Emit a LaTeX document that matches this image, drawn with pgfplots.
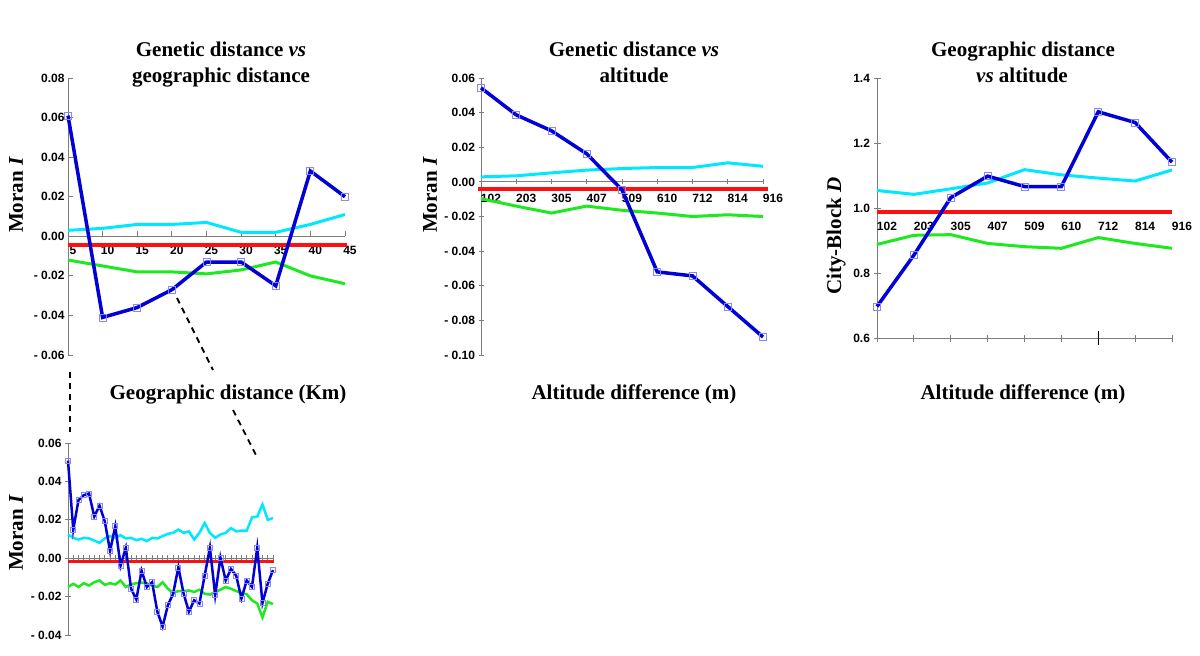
\documentclass[border=0pt]{standalone}
\usepackage{fontspec}
\setmainfont{Liberation Serif}
\setsansfont{Liberation Sans}
\usepackage{pgfplots}
\pgfplotsset{compat=1.18}
\usepackage{pgfplotstable}

\definecolor{lblue}{RGB}{0,0,215}
\definecolor{lcyan}{RGB}{0,232,255}
\definecolor{lgreen}{RGB}{30,232,30}
\definecolor{lred}{RGB}{255,15,15}
\definecolor{mk}{RGB}{135,135,255}
\definecolor{axgray}{RGB}{125,125,125}

\newcommand{\ttl}{\bfseries\fontsize{21}{26}\selectfont}

% genetic vs geographic distance (km)
\pgfplotstableread{
x blue cyan green
5  0.061 0.003 -0.012
10 -0.041 0.004 -0.015
15 -0.036 0.006 -0.018
20 -0.027 0.006 -0.018
25 -0.013 0.007 -0.019
30 -0.013 0.002 -0.017
35 -0.025 0.002 -0.013
40 0.033 0.006 -0.020
45 0.020 0.011 -0.024
}\geo

% genetic vs altitude (classes 102 ... 916)
\pgfplotstableread{
x blue cyan green
0 0.0543 0.0029 -0.0097
1 0.0387 0.0035 -0.0140
2 0.0295 0.0052 -0.0180
3 0.0162 0.0068 -0.0140
4 -0.0046 0.0077 -0.0164
5 -0.0520 0.0083 -0.0180
6 -0.0543 0.0083 -0.0200
7 -0.0720 0.0110 -0.0190
8 -0.0896 0.0090 -0.0200
}\alt

% geographic vs altitude
\pgfplotstableread{
x blue cyan green
0 0.697 1.054 0.888
1 0.855 1.042 0.916
2 1.032 1.059 0.918
3 1.098 1.077 0.891
4 1.066 1.118 0.881
5 1.066 1.102 0.876
6 1.296 1.092 0.909
7 1.263 1.083 0.891
8 1.141 1.117 0.876
}\geoalt

% fine distance classes
\pgfplotstableread{
x blue cyan green
1 0.0508 0.0123 -0.0150
2 0.0149 0.0106 -0.0133
3 0.0303 0.0097 -0.0150
4 0.0328 0.0106 -0.0130
5 0.0337 0.0103 -0.0142
6 0.0217 0.0092 -0.0125
7 0.0274 0.0080 -0.0116
8 0.0192 0.0103 -0.0139
9 0.0038 0.0115 -0.0130
10 0.0166 0.0106 -0.0137
11 -0.0039 0.0120 -0.0116
12 0.0055 0.0103 -0.0150
13 -0.0159 0.0106 -0.0137
14 -0.0215 0.0094 -0.0130
15 -0.0065 0.0101 -0.0127
16 -0.0150 0.0089 -0.0130
17 -0.0125 0.0106 -0.0142
18 -0.0279 0.0103 -0.0150
19 -0.0356 0.0115 -0.0125
20 -0.0245 0.0127 -0.0159
21 -0.0185 0.0132 -0.0181
22 -0.0048 0.0149 -0.0171
23 -0.0185 0.0132 -0.0171
24 -0.0279 0.0140 -0.0168
25 -0.0219 0.0097 -0.0176
26 -0.0236 0.0132 -0.0164
27 -0.0091 0.0183 -0.0185
28 0.0055 0.0132 -0.0190
29 -0.0193 0.0106 -0.0176
30 0.0003 0.0123 -0.0164
31 -0.0116 0.0132 -0.0150
32 -0.0056 0.0157 -0.0159
33 -0.0091 0.0140 -0.0171
34 -0.0210 0.0144 -0.0181
35 -0.0116 0.0144 -0.0188
36 -0.0150 0.0212 -0.0219
37 0.0055 0.0217 -0.0236
38 -0.0233 0.0280 -0.0308
39 -0.0133 0.0200 -0.0227
40 -0.0062 0.0209 -0.0239
}\fine

\pgfplotsset{
  panel/.style={
    scale only axis, clip=false, anchor=south west,
    axis line style={draw=axgray, line width=0.8pt},
    tick style={draw=axgray, line width=0.8pt},
    major tick length=5pt,
    tick label style={font=\sffamily\bfseries\fontsize{12}{12}\selectfont},
    scaled x ticks=false, scaled y ticks=false,
    hide obscured x ticks=false, hide obscured y ticks=false,
    axis y line*=left,
  },
  bl/.style={draw=lblue, line width=3.5pt, mark=square, mark size=3.5pt,
    mark options={draw=mk, line width=0.8pt, fill=none, solid}},
  cy/.style={draw=lcyan, line width=3pt, mark=none},
  gr/.style={draw=lgreen, line width=3pt, mark=none},
  rd/.style={draw=lred, line width=4pt, mark=none},
}

\begin{document}
\begin{tikzpicture}[x=1pt,y=1pt]
\useasboundingbox (0,0) rectangle (1200,-656);

% panel 1
\begin{axis}[panel, at={(68pt,-355pt)}, width=277pt, height=277pt,
  xmin=5, xmax=45, ymin=-0.06, ymax=0.08,
  axis x line*=middle, tick align=inside,
  xtick={5,10,15,20,25,30,35,40,45},
  xticklabels={5,10,15,20,25,30,35,40,45},
  xticklabel style={anchor=center, xshift=5pt, yshift=-14pt},
  ytick={-0.06,-0.04,-0.02,0,0.02,0.04,0.06,0.08},
  yticklabels={{- 0.06},{- 0.04},{- 0.02},0.00,0.02,0.04,0.06,0.08}]
\addplot[cy] table[y=cyan] {\geo};
\addplot[gr] table[y=green] {\geo};
\addplot[rd] coordinates {(5,-0.0045) (45.3,-0.0045)};
\addplot[bl] table[y=blue] {\geo};
\end{axis}

% panel 2
\begin{axis}[panel, at={(481pt,-355pt)}, width=282pt, height=277pt,
  xmin=0, xmax=8, ymin=-0.10, ymax=0.06,
  axis x line*=middle, tick align=center,
  xtick={0,...,8},
  xticklabels={102,203,305,407,509,610,712,814,916},
  xticklabel style={anchor=center, xshift=10pt, yshift=-14pt},
  ytick={-0.10,-0.08,-0.06,-0.04,-0.02,0,0.02,0.04,0.06},
  yticklabels={{- 0.10},{- 0.08},{- 0.06},{- 0.04},{- 0.02},0.00,0.02,0.04,0.06}]
\addplot[cy] table[y=cyan] {\alt};
\addplot[gr] table[y=green] {\alt};
\addplot[rd] coordinates {(-0.09,-0.004) (8.14,-0.004)};
\addplot[bl] table[y=blue] {\alt};
\end{axis}

% panel 3
\begin{axis}[panel, at={(877pt,-338pt)}, width=295pt, height=260pt,
  xmin=0, xmax=8, ymin=0.6, ymax=1.4,
  axis x line*=bottom, tick align=center, major tick length=7pt,
  xtick={0,...,8},
  xticklabels={102,203,305,407,509,610,712,814,916},
  xticklabel style={anchor=center, xshift=10pt, yshift=115pt},
  extra x ticks={6}, extra x tick labels={},
  extra x tick style={major tick length=14pt, tick style={draw=black}},
  ytick={0.6,0.8,1.0,1.2,1.4},
  yticklabels={0.6,0.8,1.0,1.2,1.4}]
\addplot[cy] table[y=cyan] {\geoalt};
\addplot[gr] table[y=green] {\geoalt};
\addplot[rd] coordinates {(0,0.988) (8,0.988)};
\addplot[bl] table[y=blue] {\geoalt};
\end{axis}

% inset with fine distance classes
\begin{axis}[panel, at={(68pt,-635pt)}, width=205pt, height=192pt,
  xmin=1, xmax=40, ymin=-0.04, ymax=0.06,
  axis x line*=middle, tick align=center, major tick length=6pt,
  xtick={1,...,40}, xticklabels={},
  ytick={-0.04,-0.02,0,0.02,0.04,0.06},
  yticklabels={{- 0.04},{- 0.02},0.00,0.02,0.04,0.06}]
\addplot[cy, line width=2.5pt] table[y=cyan] {\fine};
\addplot[gr, line width=2.5pt] table[y=green] {\fine};
\addplot[rd, line width=3pt] coordinates {(1,-0.0017) (40.1,-0.0017)};
\addplot[bl, line width=2.5pt, mark size=2.5pt] table[y=blue] {\fine};
\end{axis}

% titles and axis names
\node[font=\ttl, anchor=base] at (221,-56) {Genetic distance \textit{vs}};
\node[font=\ttl, anchor=base] at (221,-82) {geographic distance};
\node[font=\ttl, anchor=base] at (634,-56) {Genetic distance \textit{vs}};
\node[font=\ttl, anchor=base] at (634,-82) {altitude};
\node[font=\ttl, anchor=base] at (1023,-56) {Geographic distance};
\node[font=\ttl, anchor=base] at (1022,-82) {\textit{vs} altitude};

\node[font=\ttl, anchor=base] at (228,-399) {Geographic distance (Km)};
\node[font=\ttl, anchor=base] at (634,-399) {Altitude difference (m)};
\node[font=\ttl, anchor=base] at (1023,-399) {Altitude difference (m)};

\node[font=\ttl, rotate=90] at (16,-195) {Moran \textit{I}};
\node[font=\ttl, rotate=90] at (430,-195) {Moran \textit{I}};
\node[font=\ttl, rotate=90] at (836,-236) {City-Block \textit{D}};
\node[font=\ttl, rotate=90] at (16,-533) {Moran \textit{I}};

% zoom guides
\draw[line width=1.8pt, dash pattern=on 6pt off 5pt] (70,-372) -- (70,-432);
\draw[line width=1.8pt, dash pattern=on 6pt off 5pt] (177,-298) -- (213,-370);
\draw[line width=1.8pt, dash pattern=on 6pt off 5pt] (233,-410) -- (256,-455);
\end{tikzpicture}
\end{document}
